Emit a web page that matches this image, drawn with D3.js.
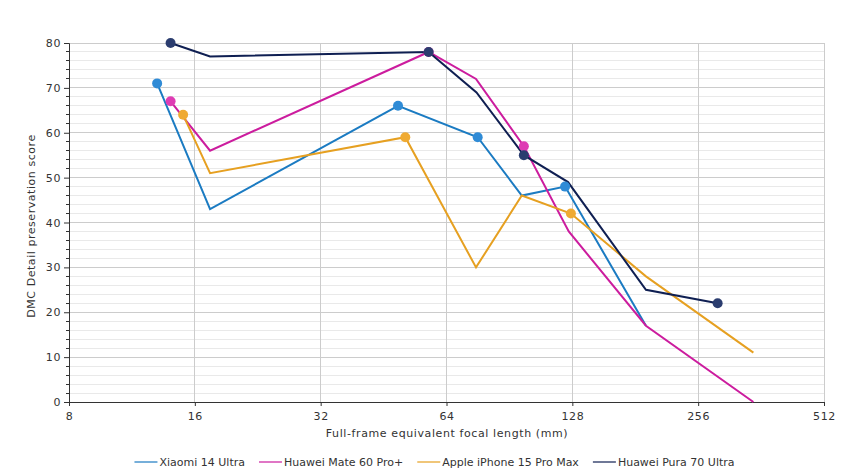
<!DOCTYPE html>
<html>
<head>
<meta charset="utf-8">
<script src="https://cdn.jsdelivr.net/npm/d3@7/dist/d3.min.js"></script>
<style>
  html, body { margin: 0; padding: 0; background: #fff; }
  svg { display: block; font-family: "DejaVu Sans", sans-serif; }
</style>
</head>
<body>
<svg id="chart" width="857" height="474"></svg>
<script>
// ---- data ----
const seriesNames = ["Xiaomi 14 Ultra", "Huawei Mate 60 Pro+", "Apple iPhone 15 Pro Max", "Huawei Pura 70 Ultra"];
// [focal length mm, score, marker?]
const xiaomi = [[13, 71, 1], [17.4, 43, 0], [49, 66, 1], [76, 59, 1], [96.9, 46, 0], [123, 48, 1], [192, 17, 0]];
const mate   = [[14, 67, 1], [17.4, 56, 0], [58, 78, 1], [75.3, 72, 0], [98, 57, 1], [125.5, 38, 0], [192, 17, 0], [347, 0, 0]];
const apple  = [[15, 64, 1], [17.4, 51, 0], [51, 59, 1], [75.3, 30, 0], [96.9, 46, 0], [127, 42, 1], [192, 28, 0], [347, 11, 0]];
const pura   = [[14, 80, 1], [17.4, 77, 0], [58, 78, 1], [75.5, 69, 0], [98, 55, 1], [125, 49, 0], [192, 25, 0], [285, 22, 1]];
const xTicks = [8, 16, 32, 64, 128, 256, 512];
const yTicks = [0, 10, 20, 30, 40, 50, 60, 70, 80];
const lineColors   = ["#1b7bc2", "#cc1c9e", "#e6a021", "#0f1f52"];
const markerColors = ["#2f8bd6", "#de3cb4", "#efaa33", "#2b3d6f"];
const allSeries = [xiaomi, mate, apple, pura];

// ---- layout ----
const svg = d3.select("#chart");
const x = d3.scaleLog().base(2).domain([8, 512]).range([69, 824]);
const y = d3.scaleLinear().domain([0, 80]).range([402, 43]);

// minor grid
const minor = d3.range(0, 81, 2).filter(v => v % 10 !== 0);
svg.append("g").selectAll("line").data(minor).join("line")
  .attr("x1", 69).attr("x2", 824)
  .attr("y1", d => y(d)).attr("y2", d => y(d))
  .attr("stroke", "#e9e9e9").attr("stroke-width", 1).attr("shape-rendering", "crispEdges");
// major grid horizontal
svg.append("g").selectAll("line").data(yTicks.filter(v => v > 0)).join("line")
  .attr("x1", 69).attr("x2", 824)
  .attr("y1", d => y(d)).attr("y2", d => y(d))
  .attr("stroke", "#cccccc").attr("stroke-width", 1).attr("shape-rendering", "crispEdges");
// vertical grid
svg.append("g").selectAll("line").data(xTicks.slice(1)).join("line")
  .attr("x1", d => x(d)).attr("x2", d => x(d))
  .attr("y1", 43).attr("y2", 402)
  .attr("stroke", "#cccccc").attr("stroke-width", 1).attr("shape-rendering", "crispEdges");

// axes
const xAxis = d3.axisBottom(x).tickValues(xTicks).tickFormat(d3.format("d")).tickSize(4).tickPadding(6);
const gx = svg.append("g").attr("transform", "translate(0,402)").call(xAxis);
gx.select(".domain").attr("stroke", "#333");
gx.selectAll(".tick line").attr("stroke", "#333");
gx.selectAll("text").attr("fill", "#333").style("font-size", "11px").style("font-family", "DejaVu Sans")
  .style("letter-spacing", "0.6px");

const yAxis = d3.axisLeft(y).tickValues(yTicks).tickSize(5).tickPadding(3);
const gy = svg.append("g").attr("transform", "translate(69,0)").call(yAxis);
gy.select(".domain").attr("stroke", "#333");
gy.selectAll(".tick line").attr("stroke", "#333");
gy.selectAll("text").attr("fill", "#333").style("font-size", "11px").style("font-family", "DejaVu Sans")
  .style("letter-spacing", "0.6px");
// minor y ticks
svg.append("g").selectAll("line").data(minor).join("line")
  .attr("x1", 66).attr("x2", 69)
  .attr("y1", d => y(d)).attr("y2", d => y(d))
  .attr("stroke", "#333").attr("shape-rendering", "crispEdges");

// axis titles
svg.append("text").attr("x", 447).attr("y", 437).attr("text-anchor", "middle")
  .attr("fill", "#333").style("font-size", "11px").style("letter-spacing", "0.6px")
  .text("Full-frame equivalent focal length (mm)");
svg.append("text").attr("transform", "translate(35,226) rotate(-90)").attr("text-anchor", "middle")
  .attr("fill", "#333").style("font-size", "11px").style("letter-spacing", "0.55px")
  .text("DMC Detail preservation score");

// lines
const line = d3.line().x(d => x(d[0])).y(d => y(d[1]));
allSeries.forEach((s, i) => {
  svg.append("path").datum(s).attr("d", line)
    .attr("fill", "none").attr("stroke", lineColors[i]).attr("stroke-width", 2)
    .attr("stroke-linejoin", "miter");
});
allSeries.forEach((s, i) => {
  svg.append("g").selectAll("circle").data(s.filter(d => d[2])).join("circle")
    .attr("cx", d => x(d[0])).attr("cy", d => y(d[1])).attr("r", 5)
    .attr("fill", markerColors[i]);
});

// legend
const leg = svg.append("g");
let cx = 0;
seriesNames.forEach((n, i) => {
  const g = leg.append("g").attr("transform", `translate(${cx},0)`);
  g.append("line").attr("x1", 0).attr("x2", 23).attr("y1", 0).attr("y2", 0)
    .attr("stroke", lineColors[i]).attr("stroke-width", 1.2);
  const t = g.append("text").attr("x", 25).attr("y", 4).attr("fill", "#333")
    .style("font-size", "11px").text(n);
  const w = t.node().getComputedTextLength();
  cx += 25 + w + 14;
});
const total = cx - 14;
leg.attr("transform", `translate(${434.5 - total / 2},462)`);
</script>
</body>
</html>
